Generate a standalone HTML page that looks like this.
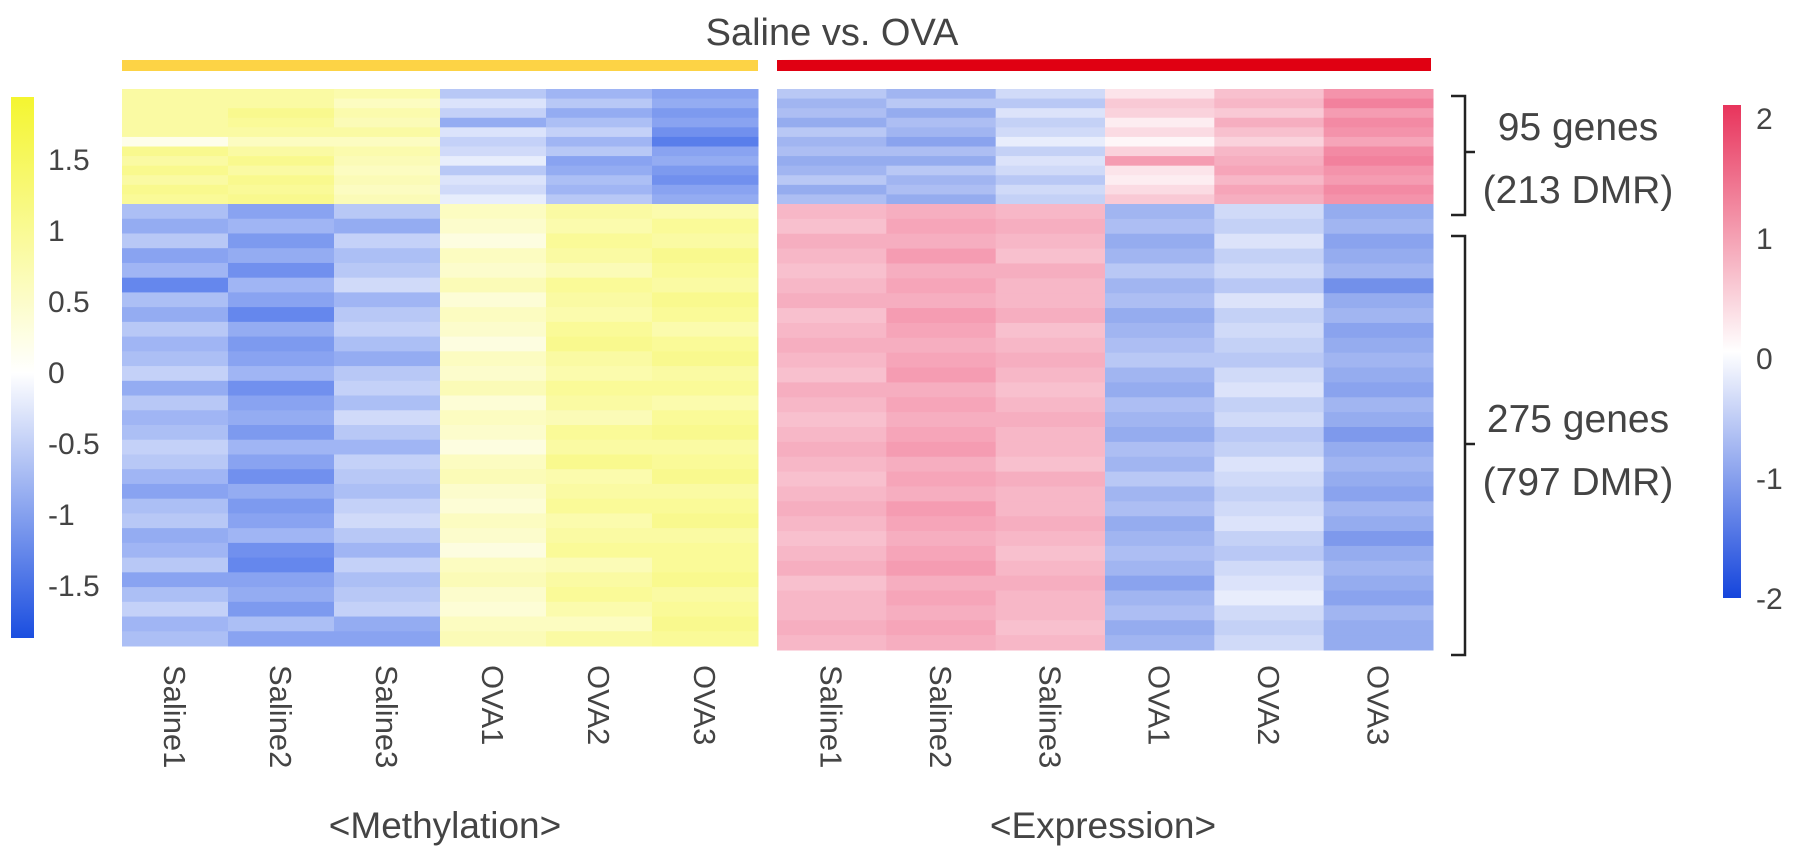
<!DOCTYPE html>
<html><head><meta charset="utf-8"><style>
body{margin:0;background:#fff;}
svg{display:block;font-family:"Liberation Sans",Arial,sans-serif;}
</style></head><body>
<svg id="chart" width="1795" height="861" viewBox="0 0 1795 861">
<defs>
<linearGradient id="gl" x1="0" y1="0" x2="0" y2="1">
<stop offset="0" stop-color="#f4f530"/><stop offset="0.51" stop-color="#ffffff"/><stop offset="1" stop-color="#1b4ee0"/>
</linearGradient>
<linearGradient id="gr" x1="0" y1="0" x2="0" y2="1">
<stop offset="0" stop-color="#e8345c"/><stop offset="0.5" stop-color="#ffffff"/><stop offset="1" stop-color="#1545dc"/>
</linearGradient>
</defs>
<text x="832" y="45" font-size="38" text-anchor="middle" fill="#444">Saline vs. OVA</text>
<rect x="122" y="60" width="636" height="11" fill="#fdd345"/>
<polygon points="777,60 1431,58 1431,71 777,71" fill="#e00012"/>
<rect x="11" y="97" width="23" height="541" fill="url(#gl)"/>
<rect x="1723" y="105" width="18" height="493" fill="url(#gr)"/>
<g id="hm"></g>
<g id="lt"></g>
<g id="rt"></g>
<g id="cl"></g>
<path d="M1451,96 H1465 V215 H1451 M1465,152 H1475" stroke="#222" stroke-width="2.5" fill="none"/>
<path d="M1451,236 H1465 V655 H1451 M1465,444 H1475" stroke="#222" stroke-width="2.5" fill="none"/>
<text x="1578" y="140" font-size="39" text-anchor="middle" fill="#444">95 genes</text>
<text x="1578" y="203" font-size="39" text-anchor="middle" fill="#444">(213 DMR)</text>
<text x="1578" y="432" font-size="39" text-anchor="middle" fill="#444">275 genes</text>
<text x="1578" y="495" font-size="39" text-anchor="middle" fill="#444">(797 DMR)</text>
<text x="445" y="838" font-size="37" text-anchor="middle" fill="#444">&lt;Methylation&gt;</text>
<text x="1103" y="838" font-size="37" text-anchor="middle" fill="#444">&lt;Expression&gt;</text>
</svg>
<script>
const samples=["Saline1","Saline2","Saline3","OVA1","OVA2","OVA3"];
const leftTicks=[1.5,1,0.5,0,-0.5,-1,-1.5];
const rightTicks=[2,1,0,-1,-2];
const methTop=[
[0.9,0.9,0.9,0.9,0.9,0.2,1.1,0.9,1.1,0.9,1.1,1.0],
[0.9,0.9,1.1,1.0,0.9,0.6,0.9,1.1,0.9,1.1,1.0,1.1],
[0.8,0.6,0.8,0.7,0.9,0.6,0.8,0.7,0.6,0.7,0.6,0.7],
[-0.6,-0.3,-0.5,-0.9,-0.3,-0.5,-0.4,-0.2,-0.6,-0.3,-0.4,-0.2],
[-0.8,-0.6,-0.9,-0.7,-0.5,-0.8,-0.6,-1.0,-0.9,-0.7,-0.8,-0.6],
[-1.0,-0.9,-1.1,-1.0,-1.2,-1.4,-1.0,-0.9,-1.1,-1.2,-1.0,-0.9]];
const methBot=[
[-0.7,-0.9,-0.6,-1.0,-0.8,-1.3,-0.7,-0.9,-0.6,-0.8,-0.7,-0.5,-0.9,-0.6,-0.8,-0.7,-0.5,-0.6,-0.8,-1.0,-0.7,-0.6,-0.9,-0.8,-0.6,-1.0,-0.7,-0.5,-0.8,-0.7],
[-1.0,-0.8,-1.1,-0.9,-1.2,-0.8,-1.0,-1.3,-0.9,-1.1,-1.0,-0.8,-1.2,-1.0,-0.9,-1.1,-0.8,-1.0,-1.2,-0.9,-1.1,-1.0,-0.8,-1.2,-1.3,-1.0,-0.9,-1.1,-0.7,-1.0],
[-0.6,-0.9,-0.5,-0.7,-0.6,-0.4,-0.8,-0.6,-0.5,-0.7,-0.9,-0.6,-0.5,-0.7,-0.4,-0.6,-0.8,-0.5,-0.6,-0.7,-0.5,-0.4,-0.6,-0.8,-0.5,-0.7,-0.6,-0.5,-0.9,-1.0],
[0.6,0.5,0.3,0.6,0.5,0.7,0.4,0.6,0.5,0.3,0.6,0.5,0.7,0.4,0.6,0.5,0.3,0.6,0.7,0.5,0.4,0.6,0.5,0.3,0.6,0.7,0.5,0.4,0.6,0.7],
[0.9,0.8,1.0,0.9,0.7,1.0,0.9,0.8,1.0,1.1,0.9,0.8,1.0,0.9,0.7,1.0,0.9,1.1,0.8,0.9,1.0,0.8,0.9,1.0,0.7,0.9,1.0,0.8,0.6,0.9],
[0.8,1.0,0.9,1.1,1.0,0.9,1.1,1.0,0.8,1.0,1.1,0.9,1.0,0.8,1.0,1.1,0.9,1.0,1.1,0.9,1.0,1.1,0.9,1.0,1.0,1.1,0.9,1.0,1.1,1.0]];
const exprTop=[
[-0.6,-0.8,-0.7,-0.9,-0.6,-0.8,-0.7,-0.9,-0.8,-0.6,-0.9,-0.7],
[-0.8,-0.6,-0.9,-0.7,-0.8,-1.0,-0.7,-0.9,-0.6,-0.8,-0.7,-0.9],
[-0.4,-0.6,-0.3,-0.5,-0.4,-0.2,-0.5,-0.3,-0.4,-0.6,-0.4,-0.5],
[0.3,0.6,0.5,0.2,0.4,0.1,0.5,1.1,0.3,0.2,0.4,0.6],
[0.7,0.8,0.6,0.9,0.7,0.5,0.8,0.9,1.0,0.8,1.0,0.9],
[1.2,1.4,1.1,1.3,1.2,1.0,1.3,1.4,1.2,1.1,1.3,1.2]];
const exprBot=[
[0.8,0.7,0.9,0.8,0.7,0.8,0.9,0.7,0.8,0.9,0.8,0.7,0.9,0.8,0.7,0.8,0.9,0.8,0.7,0.8,0.9,0.8,0.7,0.8,0.9,0.7,0.8,0.8,0.9,0.8],
[0.9,1.0,0.9,1.1,0.9,1.0,0.9,1.1,1.0,0.9,1.0,1.1,0.9,1.0,0.9,1.0,1.1,0.9,1.0,0.9,1.1,1.0,0.9,1.0,1.1,0.9,1.0,0.9,1.0,0.9],
[0.8,0.9,0.8,0.7,0.9,0.8,0.8,0.9,0.7,0.8,0.9,0.8,0.7,0.8,0.9,0.8,0.8,0.7,0.9,0.8,0.8,0.9,0.8,0.7,0.8,0.9,0.8,0.8,0.7,0.8],
[-0.8,-0.7,-0.9,-0.8,-0.6,-0.8,-0.7,-0.9,-0.8,-0.7,-0.6,-0.8,-0.9,-0.7,-0.8,-0.9,-0.7,-0.8,-0.6,-0.8,-0.7,-0.9,-0.8,-0.7,-0.8,-1.0,-0.8,-0.7,-0.9,-0.8],
[-0.4,-0.5,-0.3,-0.5,-0.4,-0.6,-0.3,-0.5,-0.4,-0.5,-0.6,-0.4,-0.3,-0.5,-0.4,-0.6,-0.5,-0.3,-0.4,-0.5,-0.4,-0.3,-0.5,-0.6,-0.4,-0.3,-0.2,-0.4,-0.5,-0.4],
[-0.9,-0.8,-1.0,-0.9,-0.8,-1.2,-0.9,-0.8,-1.0,-0.9,-0.8,-0.9,-1.0,-0.8,-0.9,-1.1,-0.9,-0.8,-0.9,-1.0,-0.8,-0.9,-1.1,-0.9,-0.8,-0.9,-1.0,-0.8,-0.9,-0.9]];

const NS="http://www.w3.org/2000/svg";
function mix(a,b,t){t=Math.max(0,Math.min(1,t));return "rgb("+a.map((c,i)=>Math.round(c+(b[i]-c)*t)).join(",")+")";}
function methColor(v){return v>=0?mix([255,255,255],[245,245,60],v/1.9):mix([255,255,255],[30,80,228],-v/1.9);}
function exprColor(v){return v>=0?mix([255,255,255],[236,75,115],v/2):mix([255,255,255],[20,70,220],-v/2);}
const hm=document.getElementById('hm');
function drawBlock(data,x0,x1,y0,y1,colorFn,name){
  const cw=(x1-x0)/data.length;
  data.forEach((col,ci)=>{
    const rh=(y1-y0)/col.length;
    col.forEach((v,ri)=>{
      const r=document.createElementNS(NS,'rect');
      r.setAttribute('x',(x0+ci*cw).toFixed(2));
      r.setAttribute('y',(y0+ri*rh).toFixed(2));
      r.setAttribute('width',(cw+0.5).toFixed(2));
      r.setAttribute('height',(rh+0.5).toFixed(2));
      r.setAttribute('fill',colorFn(v));
      
      
      hm.appendChild(r);
    });
  });
}
drawBlock(methTop,122,758,89,204,methColor,'methylation-cluster1');
drawBlock(methBot,122,758,204,646,methColor,'methylation-cluster2');
drawBlock(exprTop,777,1433,89,204,exprColor,'expression-cluster1');
drawBlock(exprBot,777,1433,204,650,exprColor,'expression-cluster2');

function yL(v){return 372-v*142;}
function yR(v){return 358-v*120;}
const lt=document.getElementById('lt');
leftTicks.forEach(v=>{
  const t=document.createElementNS(NS,'text');
  t.setAttribute('x',48);t.setAttribute('y',yL(v)+11);
  t.setAttribute('font-size','30');t.setAttribute('fill','#444');
  t.textContent=String(v);
  
  
  lt.appendChild(t);
});
const rt=document.getElementById('rt');
rightTicks.forEach(v=>{
  const t=document.createElementNS(NS,'text');
  t.setAttribute('x',1756);t.setAttribute('y',yR(v)+11);
  t.setAttribute('font-size','30');t.setAttribute('fill','#444');
  t.textContent=String(v);
  
  
  rt.appendChild(t);
});
const cl=document.getElementById('cl');
[[122,758],[777,1433]].forEach(([a,b])=>{
  const cw=(b-a)/samples.length;
  samples.forEach((s,i)=>{
    const cx=a+cw*(i+0.5);
    const t=document.createElementNS(NS,'text');
    t.setAttribute('transform','translate('+(cx-11)+',665) rotate(90)');
    t.setAttribute('font-size','31');t.setAttribute('fill','#444');
    t.textContent=s;
    
    
    cl.appendChild(t);
  });
});
</script>
</body></html>
